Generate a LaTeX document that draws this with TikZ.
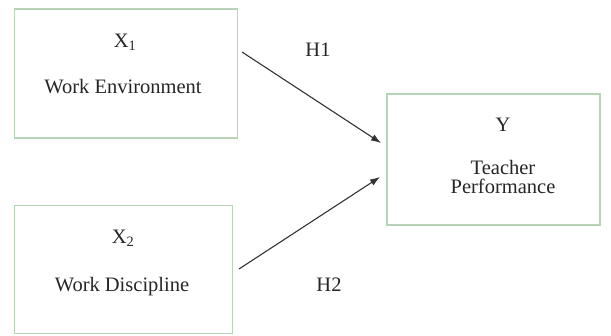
\documentclass[tikz,border=0pt]{standalone}
\usepackage{fontspec}
\setmainfont{Liberation Serif}
\newfontfamily\timesfont{Liberation Serif}
\usepackage{amsmath}
\usetikzlibrary{arrows.meta}

\begin{document}
\begin{tikzpicture}[
    x=1pt, y=-1pt,
    var/.style={rectangle,draw=green!25!gray!45,line width=1.4pt,inner sep=0pt},
    path/.style={draw=black!80,line width=1.1pt,-{Latex[length=10pt,width=7pt]}},
    lbl/.style={font=\timesfont\fontsize{20.5}{24}\selectfont,text=black!85},
    ]
    \useasboundingbox (0,0) rectangle (611,335);
    \node[var,minimum width=223pt,minimum height=129pt] (X1) at (126,73.5) {};
    \node[var,minimum width=218pt,minimum height=128pt] (X2) at (123.5,269.5) {};
    \node[var,minimum width=213pt,minimum height=131pt] (Y) at (493.5,159.5) {};
    \node[lbl] (X1t) at (125,42) {X\textsubscript{1}};
    \node[lbl] (X1n) at (123,87) {Work Environment};
    \node[lbl] (X2t) at (123,238) {X\textsubscript{2}};
    \node[lbl] (X2n) at (122,287) {Work Discipline};
    \node[lbl] (Yt) at (503,125) {Y};
    \node[lbl,align=center] (Yn) at (503,177) {Teacher\\[-5pt]Performance};
    \coordinate (a1) at (242,52);
    \coordinate (b1) at (381,143);
    \coordinate (a2) at (239,269);
    \coordinate (b2) at (380,177);
    \draw[path] (a1) -- (b1);
    \draw[path] (a2) -- (b2);
    \node[lbl] (H1) at (318,50) {H1};
    \node[lbl] (H2) at (329,285) {H2};
\end{tikzpicture}
\end{document}
